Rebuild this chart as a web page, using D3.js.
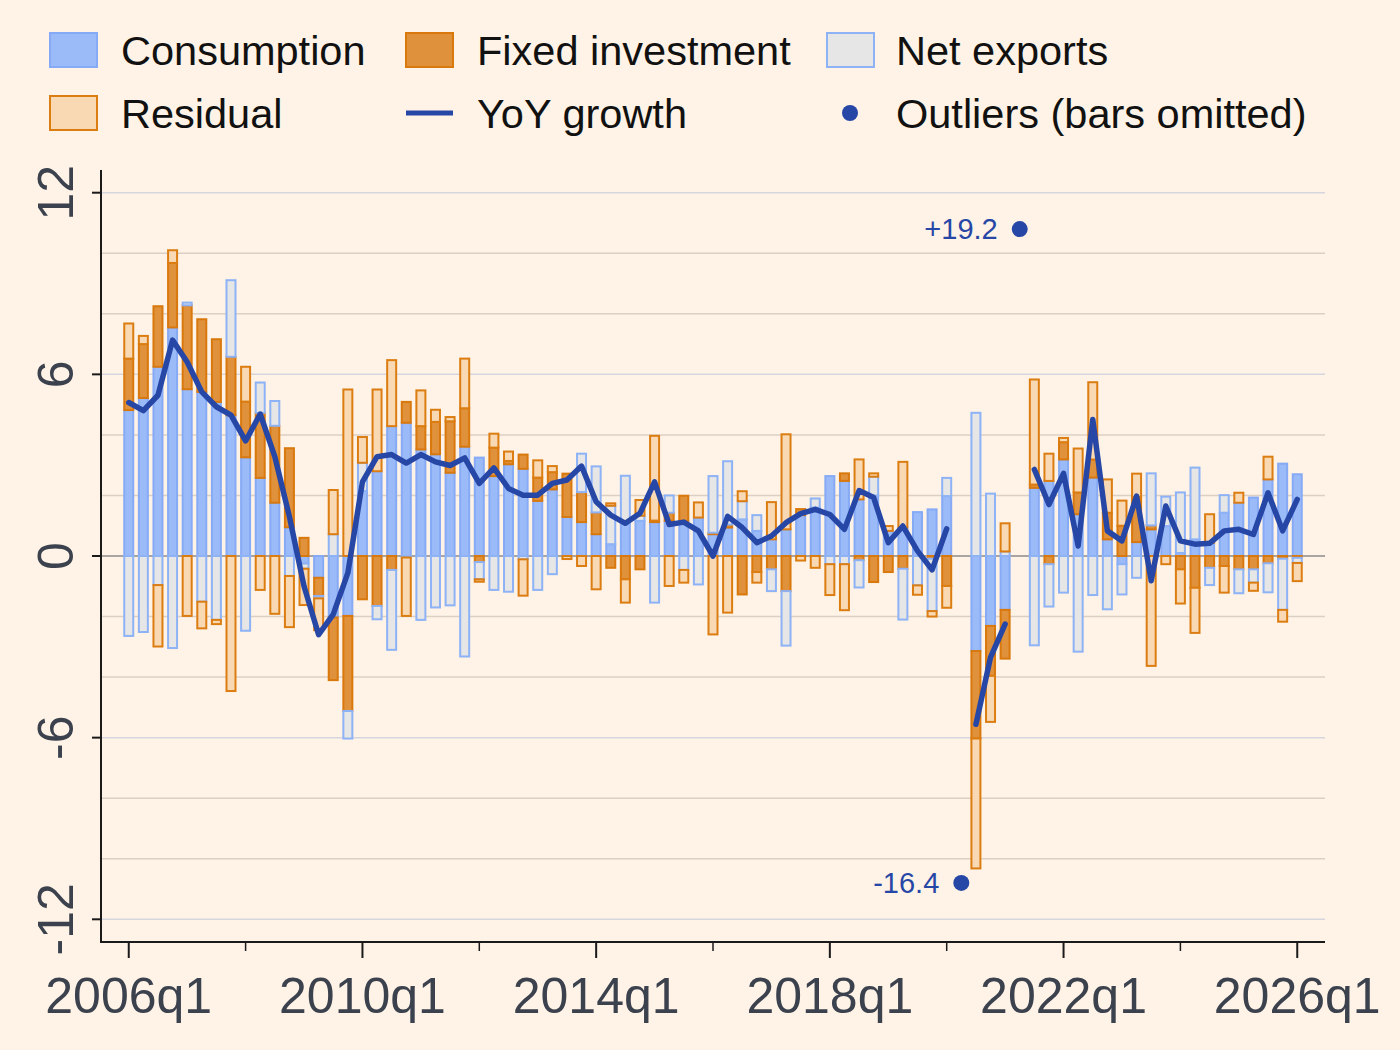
<!DOCTYPE html>
<html lang="en">
<head>
<meta charset="utf-8">
<title>GDP growth contributions</title>
<style>
  html, body { margin: 0; padding: 0; background: #fef3e6; }
  svg { display: block; font-family: "Liberation Sans", Arial, sans-serif; }
</style>
</head>
<body>
<svg id="chart"></svg>
<script src="https://cdn.jsdelivr.net/npm/d3@7"></script>
<script>
const width = 1400;
const height = 1050;

// quarters 2006q1 .. 2026q1 (categories)
const startYear = 2006;
const quarters = d3.range(81).map(i => (startYear + Math.floor(i / 4)) + "q" + (i % 4 + 1));

// contributions, percentage points (null = bars omitted)
const consumption = [4.82,5.22,6.25,7.55,5.51,5.42,5.09,4.65,3.26,2.58,1.76,0.95,
  -0.25,-0.72,-2.03,-1.98, 2.15,2.80,4.29,4.40, 3.52,3.36,2.75,3.61, 3.25,2.64,3.03,2.88,
  1.82,2.20,1.29,1.12, 0.72,0.39,1.05,1.16, 1.12,1.16,1.16,1.27, 0.72,0.94,1.21,0.83,
  0.55,0.88,1.35,1.60, 2.64,2.48,1.87,2.00, 0.83,0.94,1.45,1.54, 1.98,null,-3.14,-2.31,
  -1.78,null,2.25,2.48, 3.19,1.38,2.59,0.55, -0.27,0.46,0.88,0.99, 0.10,0.55,0.44,1.43,
  1.76,1.93,2.53,3.05, 2.70];
const fixedInvestment = [1.70,1.78,2.00,2.13,2.77,2.40,2.07,1.93,1.84,2.15,2.54,2.61,
  0.60,-0.60,-2.07,-3.14, -1.43,-1.65,-0.46,0.69, 0.77,1.07,1.70,1.27, -0.20,0.94,0.11,0.47,
  0.77,0.57,1.43,0.99, 0.72,-0.39,-0.77,-0.44, 0.05,0.27,0.83,0, 0.05,0.10,-1.27,-0.53,
  -0.44,-1.16,0.20,0, 0,0.25,-0.14,-0.86, -0.53,-0.42,0,-0.09, -0.99,null,-2.89,-1.65,
  -1.61,null,0.11,-0.27, 0.57,0.72,0.60,0.88, 1.00,1.49,0.13,0, -0.44,-1.05,-0.39,-0.33,
  -0.44,-0.44,-0.24,-0.09, -0.06];
const netExports = [-2.64,-2.51,-0.96,-3.04,0.09,-1.51,-2.11,2.53,-2.47,1.00,0.82,-0.66,
  -0.17,-0.08,0.72,-0.91, 0.93,-0.44,-2.64,-0.05, -2.11,-1.70,-1.63,-3.32, -0.57,-1.12,-1.18,-0.11,
  -1.12,-0.60,0,1.27, 1.52,1.27,1.60,0.17, -1.54,0.57,-0.46,-0.94, 1.87,2.09,0.60,0.52,
  -0.72,-1.80,0,0.30, -0.27,-0.27,-0.90,0.62, 0,-1.68,-0.97,-1.73, 0.60,null,4.73,2.06,
  0.15,null,-2.95,-1.40, -1.21,-3.16,-1.29,-1.76, -1.00,-0.72,1.72,0.97, 2.00,2.37,-0.57,0.58,
  -0.79,-0.44,-0.96,-1.69, -0.17];
const residual = [1.16,0.27,-2.03,0.42,-1.98,-0.88,-0.14,-4.46,1.15,-1.12,-1.91,-1.69,
  -1.20,-1.05,1.46,5.50, 0.85,2.70,2.18,-1.93, 1.18,0.40,0.14,1.64, -0.08,0.46,0.31,-1.20,
  0.57,0.20,-0.10,-0.33, -1.10,0.08,-0.77,0.52, 2.80,-0.99,-0.42,0.50, -2.59,-1.87,0.33,-0.35,
  1.23,3.14,-0.15,-0.39, -1.02,-1.52,1.32,0.11, 0.16,2.17,-0.31,-0.18, -0.72,null,-4.29,-1.52,
  0.93,null,3.47,0.90, 0.14,1.45,2.55,1.10, 0.83,0.77,-3.63,-0.27, -1.13,-1.49,0.94,-0.88,
  0.33,-0.27,0.75,-0.39, -0.60];
const yoyGrowth = [5.07,4.80,5.31,7.13,6.41,5.42,4.93,4.65,3.80,4.69,3.28,1.30,
  -1.00,-2.60,-1.93,-0.56, 2.45,3.28,3.35,3.07, 3.35,3.11,2.99,3.24, 2.40,2.91,2.23,2.01,
  2.01,2.40,2.51,2.97, 1.79,1.35,1.08,1.41, 2.45,1.04,1.12,0.83, 0.00,1.31,0.94,0.44,
  0.66,1.10,1.40,1.54, 1.37,0.88,2.16,1.93, 0.44,0.99,0.17,-0.46, 0.90,null,-5.56,-3.35,
  -2.25,null,2.86,1.70, 2.73,0.33,4.51,0.83, 0.50,1.98,-0.82,1.65, 0.50,0.39,0.42,0.83,
  0.88,0.71,2.09,0.83, 1.87];

const outlierQuarters = ["2020q2", "2021q2"];
const outlierValues = [-16.4, 19.2];
const outlierCap = 10.8;   // outliers drawn at the edge of the visible range

const xTickLabels = ["2006q1", "2010q1", "2014q1", "2018q1", "2022q1", "2026q1"];
const xMinorTicks = ["2008q1", "2012q1", "2016q1", "2020q1", "2024q1"];
const yTickValues = [-12, -6, 0, 6, 12];

const seriesKeys = ["cons", "fi", "nx", "res"];
const seriesNames = ["Consumption", "Fixed investment", "Net exports", "Residual"];
const fills = { cons: "#9bbaf8", fi: "#e0913c", nx: "#e6e6e6", res: "#f8d9b3" };
const strokes = { cons: "#86aaf5", fi: "#d9780c", nx: "#8db2f6", res: "#dc7d12" };
const lineColor = "#2747a7";

const rows = quarters.map((q, i) => ({
  i: i, q: q,
  cons: consumption[i], fi: fixedInvestment[i], nx: netExports[i], res: residual[i],
  yoy: yoyGrowth[i]
}));

const svg = d3.select("#chart").attr("width", width).attr("height", height);
svg.append("rect").attr("width", width).attr("height", height).attr("fill", "#fef3e6");

const x = d3.scaleLinear().domain([-1.9, 81.9]).range([101, 1325]);
const y = d3.scaleLinear().domain([-12.75, 12.75]).range([942, 170]);
const qi = q => quarters.indexOf(q);

// gridlines
svg.append("g").selectAll("line")
  .data(d3.range(-12, 13, 2).filter(v => v !== 0))
  .enter().append("line")
  .attr("x1", 101).attr("x2", 1325)
  .attr("y1", d => y(d)).attr("y2", d => y(d))
  .attr("stroke", d => d % 6 === 0 ? "#d5d5dd" : "#dcd0c5")
  .attr("stroke-width", 1.5);

svg.append("line")
  .attr("x1", 101).attr("x2", 1325)
  .attr("y1", y(0)).attr("y2", y(0))
  .attr("stroke", "#8a8a8a").attr("stroke-width", 1.5);

// stacked bars
const stacked = d3.stack()
  .keys(seriesKeys)
  .value((d, k) => d[k])
  .offset(d3.stackOffsetDiverging)(rows.filter(r => r.cons !== null));

const barW = 9;
svg.append("g").selectAll("g")
  .data(stacked)
  .enter().append("g")
  .attr("fill", d => fills[d.key])
  .attr("stroke", d => strokes[d.key])
  .attr("stroke-width", 2)
  .selectAll("rect")
  .data(d => d.filter(s => Math.abs(s[1] - s[0]) > 0.005))
  .enter().append("rect")
  .attr("x", d => x(d.data.i) - barW / 2)
  .attr("width", barW)
  .attr("y", d => y(Math.max(d[0], d[1])))
  .attr("height", d => Math.abs(y(d[0]) - y(d[1])));

// yoy line, broken at outlier quarters
const line = d3.line()
  .defined(d => d.yoy !== null)
  .x(d => x(d.i))
  .y(d => y(d.yoy));

svg.append("path")
  .datum(rows)
  .attr("d", line)
  .attr("fill", "none")
  .attr("stroke", lineColor)
  .attr("stroke-width", 5.5)
  .attr("stroke-linejoin", "round")
  .attr("stroke-linecap", "round");

// outliers
const outlierG = svg.append("g").selectAll("g")
  .data(outlierQuarters.map((q, k) => ({ q: q, v: outlierValues[k] })))
  .enter().append("g")
  .attr("transform", d => "translate(" + x(qi(d.q)) + "," + y(Math.sign(d.v) * outlierCap) + ")");
outlierG.append("circle").attr("r", 8).attr("fill", lineColor);
outlierG.append("text")
  .attr("x", -22).attr("dy", "0.35em")
  .attr("text-anchor", "end")
  .attr("fill", lineColor)
  .style("font-size", "29px")
  .text(d => (d.v > 0 ? "+" : "") + d.v.toFixed(1));

// axes
const axisColor = "#1a1a1a";
const labelColor = "#3b414d";

svg.append("line").attr("x1", 101).attr("x2", 101).attr("y1", 170).attr("y2", 943)
  .attr("stroke", axisColor).attr("stroke-width", 2);
svg.append("line").attr("x1", 100).attr("x2", 1325).attr("y1", 942).attr("y2", 942)
  .attr("stroke", axisColor).attr("stroke-width", 2);

svg.append("g").selectAll("line")
  .data(yTickValues)
  .enter().append("line")
  .attr("x1", 92).attr("x2", 101)
  .attr("y1", d => y(d)).attr("y2", d => y(d))
  .attr("stroke", axisColor).attr("stroke-width", 2);

svg.append("g").selectAll("text")
  .data(yTickValues)
  .enter().append("text")
  .attr("transform", d => "translate(73," + y(d) + ") rotate(-90)")
  .attr("text-anchor", "middle")
  .attr("fill", labelColor)
  .style("font-size", "50px")
  .text(d => String(d));

svg.append("g").selectAll("line")
  .data(xTickLabels)
  .enter().append("line")
  .attr("x1", d => x(qi(d))).attr("x2", d => x(qi(d)))
  .attr("y1", 942).attr("y2", 958)
  .attr("stroke", axisColor).attr("stroke-width", 2);

svg.append("g").selectAll("line")
  .data(xMinorTicks)
  .enter().append("line")
  .attr("x1", d => x(qi(d))).attr("x2", d => x(qi(d)))
  .attr("y1", 942).attr("y2", 951)
  .attr("stroke", axisColor).attr("stroke-width", 1.5);

svg.append("g").selectAll("text")
  .data(xTickLabels)
  .enter().append("text")
  .attr("x", d => x(qi(d)))
  .attr("y", 1013)
  .attr("text-anchor", "middle")
  .attr("fill", labelColor)
  .style("font-size", "50px")
  .text(d => d);

// legend
const legendItems = [
  { name: seriesNames[0], type: "box", key: "cons", col: 0, row: 0 },
  { name: seriesNames[1], type: "box", key: "fi", col: 1, row: 0 },
  { name: seriesNames[2], type: "box", key: "nx", col: 2, row: 0 },
  { name: seriesNames[3], type: "box", key: "res", col: 0, row: 1 },
  { name: "YoY growth", type: "line", col: 1, row: 1 },
  { name: "Outliers (bars omitted)", type: "dot", col: 2, row: 1 }
];
const colX = [50, 406, 827];
const rowY = [50, 113];

const leg = svg.append("g").selectAll("g")
  .data(legendItems)
  .enter().append("g")
  .attr("transform", d => "translate(" + colX[d.col] + "," + rowY[d.row] + ")");

leg.filter(d => d.type === "box").append("rect")
  .attr("x", 0).attr("y", -17).attr("width", 47).attr("height", 34)
  .attr("fill", d => fills[d.key]).attr("stroke", d => strokes[d.key]).attr("stroke-width", 2);
leg.filter(d => d.type === "line").append("line")
  .attr("x1", 0).attr("x2", 47).attr("y1", 0).attr("y2", 0)
  .attr("stroke", lineColor).attr("stroke-width", 5);
leg.filter(d => d.type === "dot").append("circle")
  .attr("cx", 23).attr("cy", 0).attr("r", 8).attr("fill", lineColor);
leg.append("text")
  .attr("x", d => d.col === 2 ? 69 : 71)
  .attr("y", 15)
  .attr("fill", "#111")
  .style("font-size", "41.5px")
  .text(d => d.name);
</script>
</body>
</html>
